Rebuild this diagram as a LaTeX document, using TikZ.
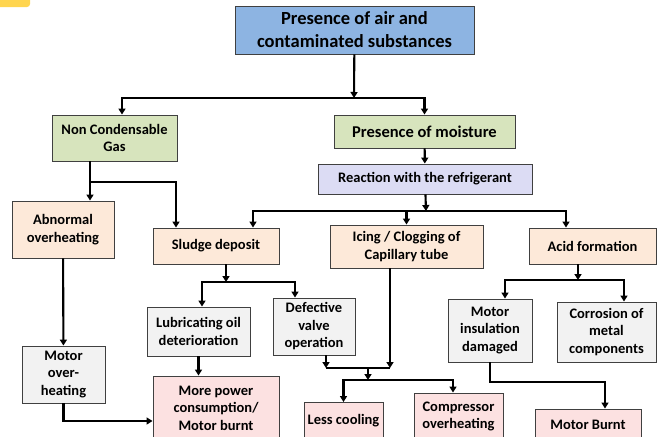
\documentclass[tikz,border=0pt]{standalone}
\usepackage{fontspec}
\setmainfont{Carlito}
\usetikzlibrary{arrows.meta}
\usepackage{xcolor}
\definecolor{rootblue}{HTML}{8DB4E2}
\definecolor{causegreen}{HTML}{D7E4BD}
\definecolor{reactlilac}{HTML}{DCDCF4}
\definecolor{effectpeach}{HTML}{FDE9D9}
\definecolor{detailgrey}{HTML}{F2F2F2}
\definecolor{resultpink}{HTML}{FCE1E1}
\definecolor{tagyellow}{HTML}{FFD54F}
\tikzset{
    box/.style={
        rectangle, draw=black!75, line width=0.9pt, align=center,
        inner sep=1pt, font=\fontsize{14.5}{17.5}\selectfont\bfseries
    },
    root/.style={
        box, fill=rootblue, font=\fontsize{18.5}{23}\selectfont\bfseries
    },
    cause/.style={
        box, fill=causegreen
    },
    reaction/.style={
        box, fill=reactlilac
    },
    effect/.style={
        box, fill=effectpeach
    },
    detail/.style={
        box, fill=detailgrey
    },
    result/.style={
        box, fill=resultpink
    },
    link/.style={
        line width=2.1pt, draw=black
    },
    arrow/.style={
        link, -{Triangle[length=6pt,width=7pt]}
    }
}

\begin{document}
\begin{tikzpicture}[x=1pt, y=-1pt]

    \useasboundingbox (0,0) rectangle (657,437);
    \clip (0,0) rectangle (657,437);
    \fill[tagyellow, rounded corners=3pt] (-10,-10) rectangle (30,7);

    % ── Boxes ──
    \node[root, minimum width=239, minimum height=48]   (air)     at (354.5,30)  {Presence of air and\\contaminated substances};

    \node[cause, minimum width=125, minimum height=46]  (gas)     at (114.5,138) {Non Condensable\\Gas};
    \node[cause, minimum width=181, minimum height=33, font=\fontsize{16.5}{20}\selectfont\bfseries]
                                                        (moist)   at (424.5,131.5) {Presence of moisture};
    \node[reaction, minimum width=214, minimum height=30] (react) at (425,179)   {Reaction with the refrigerant};

    \node[effect, minimum width=102, minimum height=57] (abnormal) at (63,229.5) {Abnormal\\overheating};
    \node[effect, minimum width=126, minimum height=36] (sludge)   at (216,246)  {Sludge deposit};
    \node[effect, minimum width=153, minimum height=43] (icing)    at (406.5,246.5) {Icing / Clogging of\\Capillary tube};
    \node[effect, minimum width=127, minimum height=36] (acid)     at (592.5,246) {Acid formation};

    \node[detail, minimum width=103, minimum height=49] (lube)     at (198.5,331.5) {Lubricating oil\\deterioration};
    \node[detail, minimum width=82, minimum height=57]  (valve)    at (314,326.5) {Defective\\valve\\operation};
    \node[detail, minimum width=83, minimum height=57]  (motorheat) at (63.5,374.5) {Motor\\over-\\heating};
    \node[detail, minimum width=84, minimum height=63]  (insul)    at (490,330.5) {Motor\\insulation\\damaged};
    \node[detail, minimum width=99, minimum height=60]  (corrode)  at (606.5,332) {Corrosion of\\metal\\components};

    \node[result, minimum width=126, minimum height=64] (power)    at (216,408)  {More power\\consumption/\\Motor burnt};
    \node[result, minimum width=79, minimum height=36]  (cooling)  at (343.5,420.5) {Less cooling};
    \node[result, minimum width=89, minimum height=47]  (compress) at (458.5,416.5) {Compressor\\overheating};
    \node[result, minimum width=106, minimum height=31] (burnt)    at (588,424.5) {Motor Burnt};

    % ── Junctions ──
    \coordinate (split1) at (354,98);
    \coordinate (split2) at (426,211);
    \coordinate (split3) at (90,182);
    \coordinate (split4) at (226,282);
    \coordinate (merge5) at (368,368);
    \coordinate (split6) at (368,380);
    \coordinate (split7) at (578,280);
    \coordinate (bend8)  at (490,382);

    % ── Arrows ──
    \draw[arrow] (air)   -- (split1);
    \draw[arrow] (split1) -| ([xshift=7.5]gas.north);
    \draw[arrow] (split1) -| (moist.north);
    \draw[arrow] (moist) -- (react);
    \draw[arrow] (react) -- (split2);
    \draw[arrow] (split2) -| ([xshift=37]sludge.north);
    \draw[arrow] (split2) -| (icing.north);
    \draw[arrow] (split2) -| ([xshift=-26.5]acid.north);

    \draw[arrow] ([xshift=-24.5]gas.south) -- ([xshift=-24.5]gas.south |- abnormal.north);
    \draw[arrow] (split3) -| ([xshift=-40]sludge.north);
    \draw[arrow] (abnormal) -- (motorheat);
    \draw[arrow] (motorheat.south) |- ([yshift=-13]power.west);

    \draw[arrow] ([xshift=10]sludge.south) -- (split4);
    \draw[arrow] (split4) -| ([xshift=3.5]lube.north);
    \draw[arrow] (split4) -| ([xshift=-19]valve.north);
    \draw[arrow] (lube.south) -- (lube.south |- power.north);

    \draw[arrow] ([xshift=12]valve.south) -- ([xshift=12]valve.south |- merge5);
    \draw[arrow] ([xshift=-16.5]icing.south) -- ([xshift=-16.5]icing.south |- merge5);
    \draw[link]  ([xshift=12]valve.south |- merge5) -- ([xshift=-16.5]icing.south |- merge5);
    \draw[arrow] (merge5) -- (split6);
    \draw[arrow] (split6) -| (cooling.north);
    \draw[arrow] (split6) -| ([xshift=-5.5]compress.north);

    \draw[arrow] ([xshift=-14.5]acid.south) -- (split7);
    \draw[arrow] (split7) -| ([xshift=15]insul.north);
    \draw[arrow] (split7) -| ([xshift=17.5]corrode.north);
    \draw[arrow] (insul.south) -- (bend8) -| ([xshift=17]burnt.north);

\end{tikzpicture}
\end{document}
